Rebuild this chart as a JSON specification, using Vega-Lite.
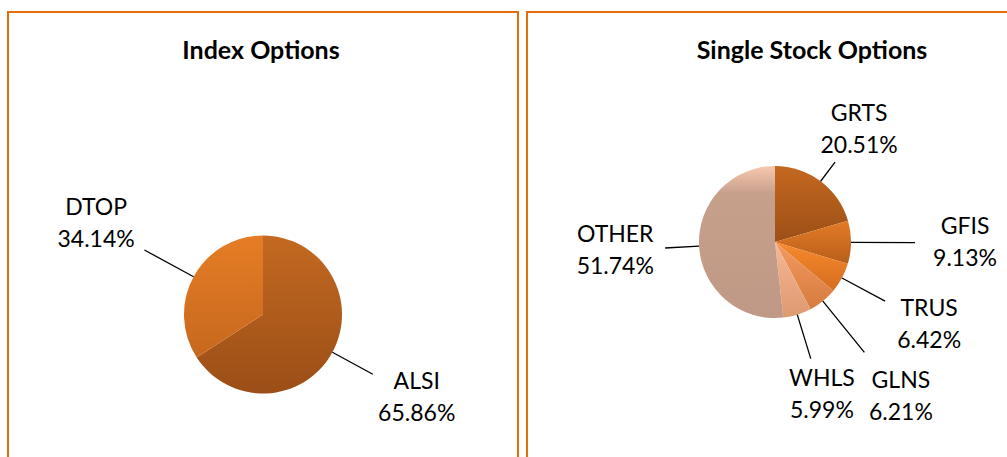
{
  "$schema": "https://vega.github.io/schema/vega-lite/v6.json",
  "padding": {"left": 7, "top": 11, "right": 0, "bottom": 0},
  "background": "white",
  "spacing": 7,
  "config": {
    "view": {"stroke": null},
    "font": "Lato",
    "title": {"font": "Lato", "fontSize": 25, "fontWeight": "bold", "color": "#000000", "anchor": "middle", "baseline": "alphabetic", "offset": -53},
    "text": {"font": "Lato", "fontSize": 23, "color": "#000000"}
  },
  "datasets": {
    "index": [
      {"name": "ALSI", "share": 0.6586, "idx": 1},
      {"name": "DTOP", "share": 0.3414, "idx": 2}
    ],
    "single": [
      {"name": "GRTS", "share": 0.2051, "idx": 1},
      {"name": "GFIS", "share": 0.0913, "idx": 2},
      {"name": "TRUS", "share": 0.0642, "idx": 3},
      {"name": "GLNS", "share": 0.0621, "idx": 4},
      {"name": "WHLS", "share": 0.0599, "idx": 5},
      {"name": "OTHER", "share": 0.5174, "idx": 6}
    ]
  },
  "hconcat": [
    {
      "width": 510,
      "height": 605,
      "title": {"text": "Index Options", "dx": -2},
      "data": {"name": "index"},
      "transform": [
        {"stack": "share", "groupby": [], "sort": [{"field": "idx", "order": "ascending"}], "as": ["s0", "s1"]},
        {"fold": ["s0", "s1"], "as": ["k", "v"]},
        {"aggregate": [{"op": "mean", "field": "v", "as": "mid"}, {"op": "min", "field": "v", "as": "a0"}, {"op": "max", "field": "v", "as": "a1"}], "groupby": ["name", "share"]}
      ],
      "layer": [
        {
          "transform": [{"aggregate": [{"op": "count", "as": "n"}]}],
          "mark": {"type": "rect", "filled": false, "stroke": "#E46C0A", "strokeWidth": 2},
          "encoding": {}
        },
        {
          "transform": [{"filter": "datum.name === 'ALSI'"}],
          "layer": [
            {
              "mark": {"type": "arc", "radius": 79, "stroke": null, "fill": {"gradient": "linear", "x1": 0, "y1": 0, "x2": 0, "y2": 1, "stops": [{"offset": 0, "color": "#C36921"}, {"offset": 1, "color": "#9B4E17"}]}},
              "encoding": {
                "theta": {"field": "a0", "type": "quantitative", "stack": null, "scale": {"domain": [0, 1]}},
                "theta2": {"field": "a1"}
              }
            },
            {
              "mark": {"type": "arc", "radius": 125, "radius2": 79, "filled": false, "stroke": "#000000", "strokeWidth": 1.3},
              "encoding": {"theta": {"field": "mid", "type": "quantitative", "stack": null, "scale": {"domain": [0, 1]}}, "theta2": {"field": "mid"}}
            },
            {
              "mark": {"type": "text", "radius": 175, "dy": -16},
              "encoding": {"theta": {"field": "mid", "type": "quantitative", "stack": null, "scale": {"domain": [0, 1]}}, "text": {"field": "name", "type": "nominal"}}
            },
            {
              "mark": {"type": "text", "radius": 175, "dy": 16},
              "encoding": {"theta": {"field": "mid", "type": "quantitative", "stack": null, "scale": {"domain": [0, 1]}}, "text": {"field": "share", "type": "quantitative", "format": ".2%"}}
            }
          ]
        },
        {
          "transform": [{"filter": "datum.name === 'DTOP'"}],
          "layer": [
            {
              "mark": {"type": "arc", "radius": 79, "stroke": null, "fill": {"gradient": "linear", "x1": 0, "y1": 0, "x2": 0, "y2": 1, "stops": [{"offset": 0, "color": "#E67D25"}, {"offset": 1, "color": "#C6681E"}]}},
              "encoding": {
                "theta": {"field": "a0", "type": "quantitative", "stack": null, "scale": {"domain": [0, 1]}},
                "theta2": {"field": "a1"}
              }
            },
            {
              "mark": {"type": "arc", "radius": 135, "radius2": 79, "filled": false, "stroke": "#000000", "strokeWidth": 1.3},
              "encoding": {"theta": {"field": "mid", "type": "quantitative", "stack": null, "scale": {"domain": [0, 1]}}, "theta2": {"field": "mid"}}
            },
            {
              "mark": {"type": "text", "radius": 190, "dy": -16},
              "encoding": {"theta": {"field": "mid", "type": "quantitative", "stack": null, "scale": {"domain": [0, 1]}}, "text": {"field": "name", "type": "nominal"}}
            },
            {
              "mark": {"type": "text", "radius": 190, "dy": 16},
              "encoding": {"theta": {"field": "mid", "type": "quantitative", "stack": null, "scale": {"domain": [0, 1]}}, "text": {"field": "share", "type": "quantitative", "format": ".2%"}}
            }
          ]
        }
      ]
    },
    {
      "width": 496,
      "height": 460,
      "title": {"text": "Single Stock Options", "dx": 37},
      "data": {"name": "single"},
      "transform": [
        {"stack": "share", "groupby": [], "sort": [{"field": "idx", "order": "ascending"}], "as": ["s0", "s1"]},
        {"fold": ["s0", "s1"], "as": ["k", "v"]},
        {"aggregate": [{"op": "mean", "field": "v", "as": "mid"}, {"op": "min", "field": "v", "as": "a0"}, {"op": "max", "field": "v", "as": "a1"}], "groupby": ["name", "share"]}
      ],
      "layer": [
        {
          "transform": [{"aggregate": [{"op": "count", "as": "n"}]}],
          "mark": {"type": "rect", "filled": false, "stroke": "#E46C0A", "strokeWidth": 2},
          "encoding": {}
        },
        {
          "transform": [{"filter": "datum.name === 'GRTS'"}],
          "layer": [
            {
              "mark": {"type": "arc", "radius": 76, "stroke": null, "fill": {"gradient": "linear", "x1": 0, "y1": 0, "x2": 0, "y2": 1, "stops": [{"offset": 0, "color": "#C4681F"}, {"offset": 1, "color": "#9C4F17"}]}},
              "encoding": {"theta": {"field": "a0", "type": "quantitative", "stack": null, "scale": {"domain": [0, 1]}}, "theta2": {"field": "a1"}}
            },
            {
              "mark": {"type": "arc", "radius": 100, "radius2": 76, "filled": false, "stroke": "#000000", "strokeWidth": 1.3},
              "encoding": {"theta": {"field": "mid", "type": "quantitative", "stack": null, "scale": {"domain": [0, 1]}}, "theta2": {"field": "mid"}}
            },
            {
              "mark": {"type": "text", "radius": 140, "dy": -16},
              "encoding": {"theta": {"field": "mid", "type": "quantitative", "stack": null, "scale": {"domain": [0, 1]}}, "text": {"field": "name", "type": "nominal"}}
            },
            {
              "mark": {"type": "text", "radius": 140, "dy": 16},
              "encoding": {"theta": {"field": "mid", "type": "quantitative", "stack": null, "scale": {"domain": [0, 1]}}, "text": {"field": "share", "type": "quantitative", "format": ".2%"}}
            }
          ]
        },
        {
          "transform": [{"filter": "datum.name === 'GFIS'"}],
          "layer": [
            {
              "mark": {"type": "arc", "radius": 76, "stroke": null, "fill": {"gradient": "linear", "x1": 0, "y1": 0, "x2": 0, "y2": 1, "stops": [{"offset": 0, "color": "#E47B26"}, {"offset": 1, "color": "#B75E1A"}]}},
              "encoding": {"theta": {"field": "a0", "type": "quantitative", "stack": null, "scale": {"domain": [0, 1]}}, "theta2": {"field": "a1"}}
            },
            {
              "mark": {"type": "arc", "radius": 140, "radius2": 76, "filled": false, "stroke": "#000000", "strokeWidth": 1.3},
              "encoding": {"theta": {"field": "mid", "type": "quantitative", "stack": null, "scale": {"domain": [0, 1]}}, "theta2": {"field": "mid"}}
            },
            {
              "mark": {"type": "text", "radius": 190, "dy": -16},
              "encoding": {"theta": {"field": "mid", "type": "quantitative", "stack": null, "scale": {"domain": [0, 1]}}, "text": {"field": "name", "type": "nominal"}}
            },
            {
              "mark": {"type": "text", "radius": 190, "dy": 16},
              "encoding": {"theta": {"field": "mid", "type": "quantitative", "stack": null, "scale": {"domain": [0, 1]}}, "text": {"field": "share", "type": "quantitative", "format": ".2%"}}
            }
          ]
        },
        {
          "transform": [{"filter": "datum.name === 'TRUS'"}],
          "layer": [
            {
              "mark": {"type": "arc", "radius": 76, "stroke": null, "fill": {"gradient": "linear", "x1": 0, "y1": 0, "x2": 0, "y2": 1, "stops": [{"offset": 0, "color": "#F88A2E"}, {"offset": 1, "color": "#D46D1E"}]}},
              "encoding": {"theta": {"field": "a0", "type": "quantitative", "stack": null, "scale": {"domain": [0, 1]}}, "theta2": {"field": "a1"}}
            },
            {
              "mark": {"type": "arc", "radius": 125, "radius2": 76, "filled": false, "stroke": "#000000", "strokeWidth": 1.3},
              "encoding": {"theta": {"field": "mid", "type": "quantitative", "stack": null, "scale": {"domain": [0, 1]}}, "theta2": {"field": "mid"}}
            },
            {
              "mark": {"type": "text", "radius": 175, "dy": -16},
              "encoding": {"theta": {"field": "mid", "type": "quantitative", "stack": null, "scale": {"domain": [0, 1]}}, "text": {"field": "name", "type": "nominal"}}
            },
            {
              "mark": {"type": "text", "radius": 175, "dy": 16},
              "encoding": {"theta": {"field": "mid", "type": "quantitative", "stack": null, "scale": {"domain": [0, 1]}}, "text": {"field": "share", "type": "quantitative", "format": ".2%"}}
            }
          ]
        },
        {
          "transform": [{"filter": "datum.name === 'GLNS'"}],
          "layer": [
            {
              "mark": {"type": "arc", "radius": 76, "stroke": null, "fill": {"gradient": "linear", "x1": 0, "y1": 0, "x2": 0, "y2": 1, "stops": [{"offset": 0, "color": "#F29A62"}, {"offset": 1, "color": "#D77B3E"}]}},
              "encoding": {"theta": {"field": "a0", "type": "quantitative", "stack": null, "scale": {"domain": [0, 1]}}, "theta2": {"field": "a1"}}
            },
            {
              "mark": {"type": "arc", "radius": 142, "radius2": 76, "filled": false, "stroke": "#000000", "strokeWidth": 1.3},
              "encoding": {"theta": {"field": "mid", "type": "quantitative", "stack": null, "scale": {"domain": [0, 1]}}, "theta2": {"field": "mid"}}
            },
            {
              "mark": {"type": "text", "radius": 200, "dy": -16},
              "encoding": {"theta": {"field": "mid", "type": "quantitative", "stack": null, "scale": {"domain": [0, 1]}}, "text": {"field": "name", "type": "nominal"}}
            },
            {
              "mark": {"type": "text", "radius": 200, "dy": 16},
              "encoding": {"theta": {"field": "mid", "type": "quantitative", "stack": null, "scale": {"domain": [0, 1]}}, "text": {"field": "share", "type": "quantitative", "format": ".2%"}}
            }
          ]
        },
        {
          "transform": [{"filter": "datum.name === 'WHLS'"}],
          "layer": [
            {
              "mark": {"type": "arc", "radius": 76, "stroke": null, "fill": {"gradient": "linear", "x1": 0, "y1": 0, "x2": 0, "y2": 1, "stops": [{"offset": 0, "color": "#F6B896"}, {"offset": 1, "color": "#DE9970"}]}},
              "encoding": {"theta": {"field": "a0", "type": "quantitative", "stack": null, "scale": {"domain": [0, 1]}}, "theta2": {"field": "a1"}}
            },
            {
              "mark": {"type": "arc", "radius": 122, "radius2": 76, "filled": false, "stroke": "#000000", "strokeWidth": 1.3},
              "encoding": {"theta": {"field": "mid", "type": "quantitative", "stack": null, "scale": {"domain": [0, 1]}}, "theta2": {"field": "mid"}}
            },
            {
              "mark": {"type": "text", "radius": 160, "dy": -16},
              "encoding": {"theta": {"field": "mid", "type": "quantitative", "stack": null, "scale": {"domain": [0, 1]}}, "text": {"field": "name", "type": "nominal"}}
            },
            {
              "mark": {"type": "text", "radius": 160, "dy": 16},
              "encoding": {"theta": {"field": "mid", "type": "quantitative", "stack": null, "scale": {"domain": [0, 1]}}, "text": {"field": "share", "type": "quantitative", "format": ".2%"}}
            }
          ]
        },
        {
          "transform": [{"filter": "datum.name === 'OTHER'"}],
          "layer": [
            {
              "mark": {"type": "arc", "radius": 76, "stroke": null, "fill": {"gradient": "linear", "x1": 0, "y1": 0, "x2": 0, "y2": 1, "stops": [{"offset": 0, "color": "#F7C8AE"}, {"offset": 0.18, "color": "#C7A08C"}, {"offset": 1, "color": "#BF9985"}]}},
              "encoding": {"theta": {"field": "a0", "type": "quantitative", "stack": null, "scale": {"domain": [0, 1]}}, "theta2": {"field": "a1"}}
            },
            {
              "mark": {"type": "arc", "radius": 110, "radius2": 76, "filled": false, "stroke": "#000000", "strokeWidth": 1.3},
              "encoding": {"theta": {"field": "mid", "type": "quantitative", "stack": null, "scale": {"domain": [0, 1]}}, "theta2": {"field": "mid"}}
            },
            {
              "mark": {"type": "text", "radius": 160, "dy": -16},
              "encoding": {"theta": {"field": "mid", "type": "quantitative", "stack": null, "scale": {"domain": [0, 1]}}, "text": {"field": "name", "type": "nominal"}}
            },
            {
              "mark": {"type": "text", "radius": 160, "dy": 16},
              "encoding": {"theta": {"field": "mid", "type": "quantitative", "stack": null, "scale": {"domain": [0, 1]}}, "text": {"field": "share", "type": "quantitative", "format": ".2%"}}
            }
          ]
        }
      ]
    }
  ]
}
